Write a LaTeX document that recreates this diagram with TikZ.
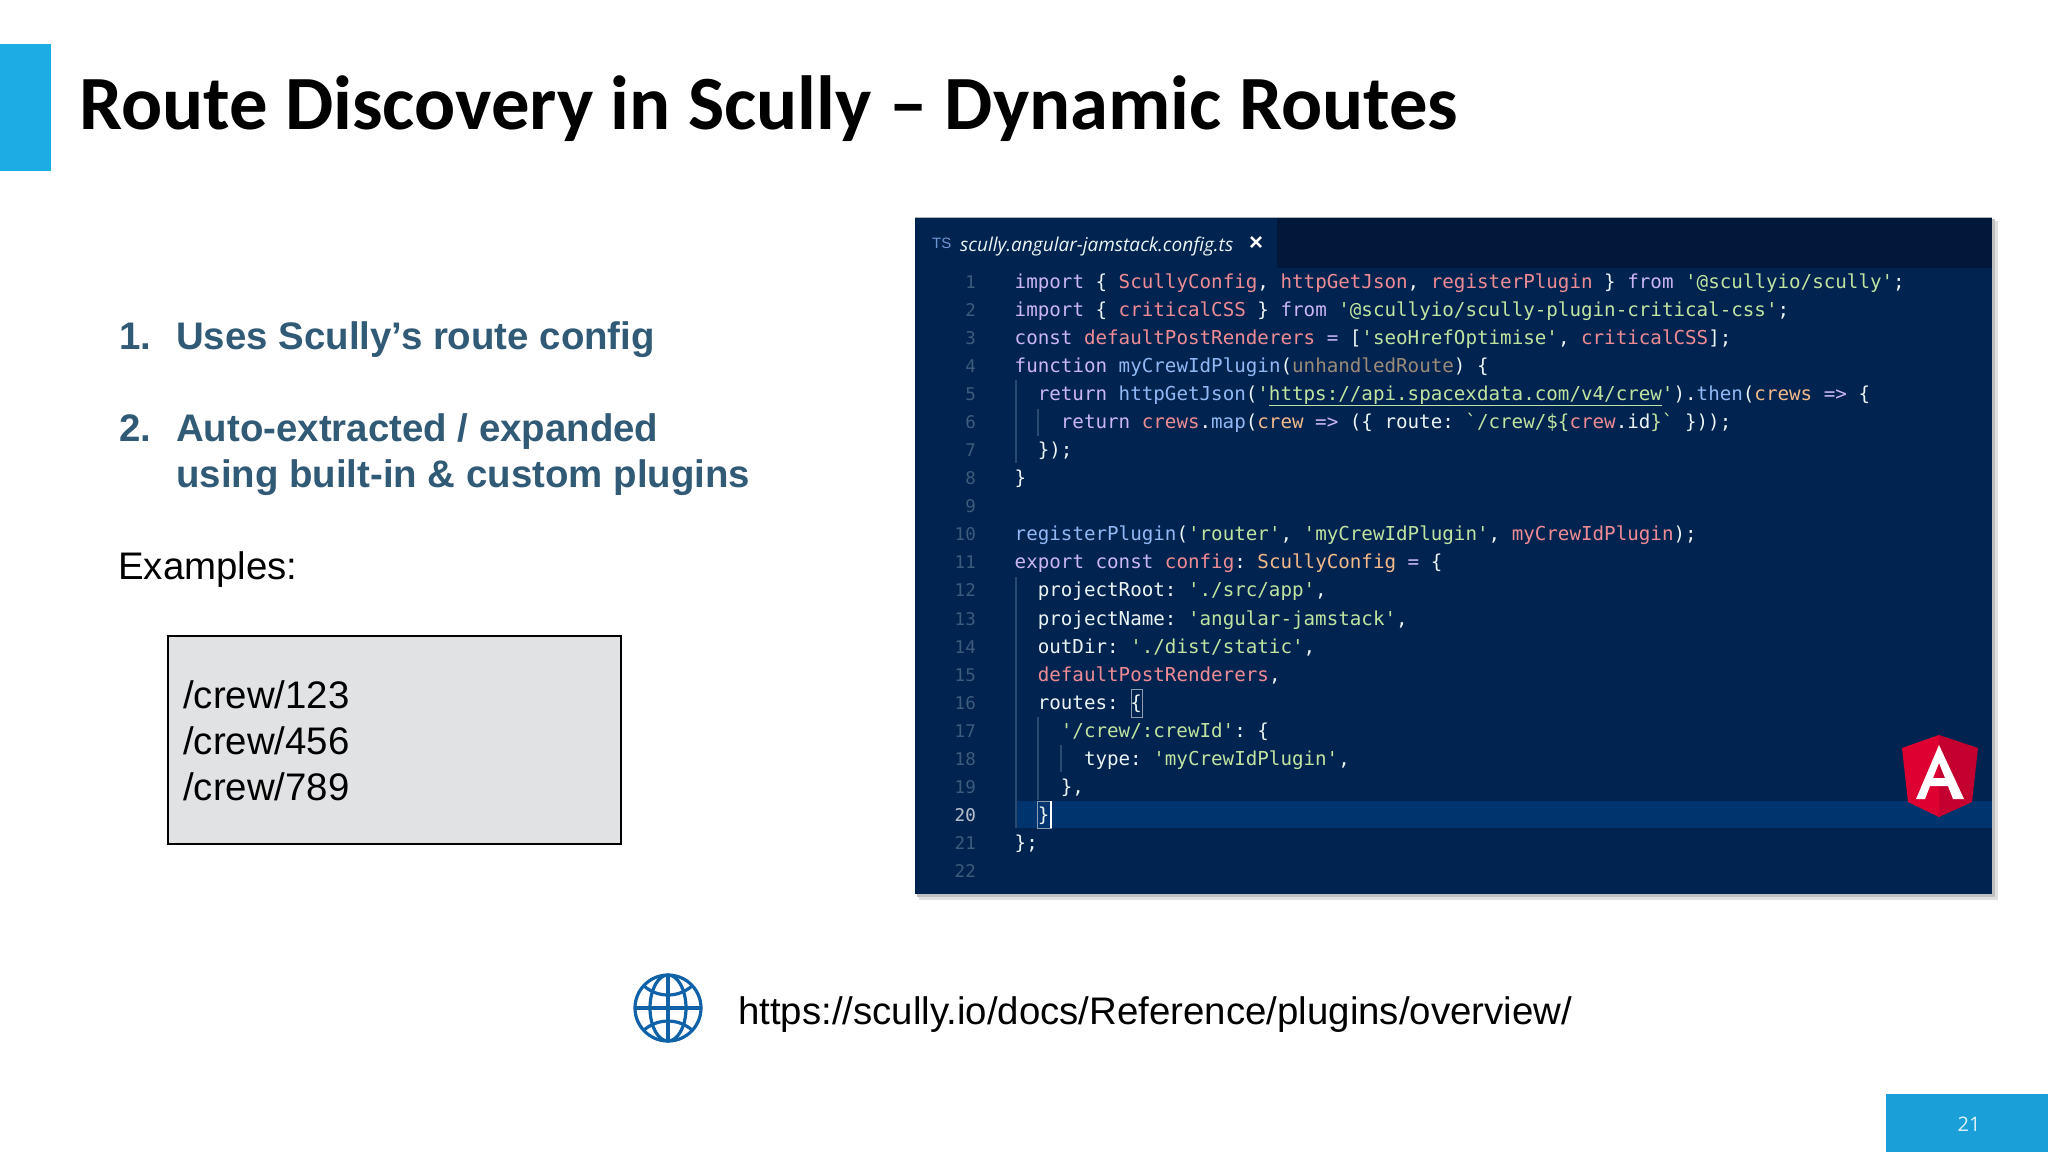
\documentclass[tikz,border=0pt]{standalone}
\usepackage{fontspec}
\setmainfont{Liberation Sans}
\newfontfamily\titlefont{Carlito}
\newfontfamily\pagefont{Open Sans}
\newfontfamily\codefont{DejaVu Sans Mono}
\definecolor{panelbg}{HTML}{01234F}
\definecolor{tabdark}{HTML}{01183A}
\definecolor{curline}{HTML}{00346E}
\definecolor{kw}{HTML}{C9B6F2}
\definecolor{rd}{HTML}{EE8C95}
\definecolor{st}{HTML}{BFE3A0}
\definecolor{wh}{HTML}{EAF4F4}
\definecolor{fn}{HTML}{8FB8F5}
\definecolor{orng}{HTML}{F2B98A}
\definecolor{faded}{HTML}{9A8A78}
\definecolor{lnum}{HTML}{3D5C7C}
\definecolor{guide}{HTML}{2A4A70}
\definecolor{brandblue}{HTML}{1CADE4}
\definecolor{footblue}{HTML}{1B9FD8}
\definecolor{headtxt}{HTML}{315A76}
\definecolor{boxgrey}{HTML}{E0E2E4}
\definecolor{globeblue}{HTML}{0F62A8}
\newcommand\Kw[1]{{\color{kw}#1}}
\newcommand\Rd[1]{{\color{rd}#1}}
\newcommand\St[1]{{\color{st}#1}}
\newcommand\Fn[1]{{\color{fn}#1}}
\newcommand\Or[1]{{\color{orng}#1}}
\newcommand\Fd[1]{{\color{faded}#1}}
\tikzset{
  codetext/.style={anchor=base west,inner sep=0pt,text=wh,font=\codefont\frenchspacing\fontsize{19.2}{22}\selectfont},
  linenum/.style={anchor=base east,inner sep=0pt,text=lnum,font=\codefont\fontsize{17.5}{22}\selectfont},
  headline/.style={anchor=base west,inner sep=0pt,text=headtxt,font=\bfseries\fontsize{38.4}{46}\selectfont},
  plainline/.style={anchor=base west,inner sep=0pt,text=black,font=\fontsize{38.4}{46}\selectfont},
  guideline/.style={draw=guide,line width=1.2pt},
  bracketbox/.style={draw=white!55!panelbg,line width=1pt}
}
\newcommand\codeline[3]{%
  \node[linenum] (num#1) at (976,{288.3+(#1-1)*28.06}) {#1};
  \node[codetext] (code#1) at ({1014.5+#2*11.55},{288.3+(#1-1)*28.06}) {#3};}
\begin{document}
\begin{tikzpicture}[x=1pt,y=-1pt]
\useasboundingbox (0,0) rectangle (2048,1152);
\fill[white] (0,0) rectangle (2048,1152);
% header
\fill[brandblue] (0,44) rectangle (51,171);
\node[anchor=base west,inner sep=0pt,text=black,font=\titlefont\bfseries\fontsize{76.7}{90}\selectfont] (title) at (79,129) {Route Discovery in Scully – Dynamic Routes};
% left column
\node[headline] (n1) at (119,349.5) {1.};
\node[headline] (h1) at (176,349.5) {Uses Scully’s route config};
\node[headline] (n2) at (119,441.5) {2.};
\node[headline] (h2a) at (176,441.5) {Auto-extracted / expanded};
\node[headline] (h2b) at (176,487.5) {using built-in \& custom plugins};
\node[plainline] (ex) at (118,579) {Examples:};
\node[draw=black,line width=2pt,fill=boxgrey,minimum width=0pt,inner sep=0pt] (box) at (394.5,740) {\tikz[x=1pt,y=1pt]\path (0,0) rectangle (453,208);};
\node[plainline] (c1) at (183,708.5) {/crew/123};
\node[plainline] (c2) at (183,754.5) {/crew/456};
\node[plainline] (c3) at (183,800.5) {/crew/789};
% code panel shadow
\fill[black!12] (919,221) rectangle (1998,900);
\fill[black!25] (917,219) rectangle (1995,897);
% code panel
\fill[panelbg] (915,217) rectangle (1992,894);
\draw[black!30,line width=1pt] (915,217) -- (1992,217);
\fill[tabdark] (1277,218) rectangle (1992,268);
\fill[curline] (1015,801) rectangle (1992,828);
% tab
\node[anchor=base west,inner sep=0pt,text=cyan!45!blue!60!white,font=\fontsize{15}{17}\selectfont] (ts) at (932,248) {TS};
\node[anchor=base west,inner sep=0pt,text=wh,font=\pagefont\itshape\fontsize{19.05}{22}\selectfont] (tab) at (960,251) {scully.angular-jamstack.config.ts};
\node[anchor=center,inner sep=0pt,text=white,font=\bfseries\fontsize{24}{26}\selectfont] (close) at (1256,243) {×};
% indent guides
\draw[guideline] (1016,380) -- (1016,463);
\draw[guideline] (1038,409) -- (1038,436);
\draw[guideline] (1016,577) -- (1016,828);
\draw[guideline] (1038,717) -- (1038,800);
\draw[guideline] (1061,745) -- (1061,772);
% brackets
\draw[bracketbox] (1131,689) rectangle (1142,717);
\draw[bracketbox] (1037,801) rectangle (1051,828);
\draw[white,line width=1.6pt] (1051,801) -- (1051,828);
% url underline
\draw[st,line width=1pt] (1269,405.5) -- (1662,405.5);
% code
\codeline{1}{0}{\Kw{import} \{ \Rd{ScullyConfig}, \Rd{httpGetJson}, \Rd{registerPlugin} \} \Kw{from} \St{'@scullyio/scully'};}
\codeline{2}{0}{\Kw{import} \{ \Rd{criticalCSS} \} \Kw{from} \St{'@scullyio/scully-plugin-critical-css'};}
\codeline{3}{0}{\Kw{const} \Rd{defaultPostRenderers} \Kw{=} [\St{'seoHrefOptimise'}, \Rd{criticalCSS}];}
\codeline{4}{0}{\Kw{function} \Fn{myCrewIdPlugin}(\Fd{unhandledRoute}) \{}
\codeline{5}{2}{\Kw{return} \Fn{httpGetJson}(\St{'https://api.spacexdata.com/v4/crew'}).\Fn{then}(\Or{crews} \Kw{=>} \{}
\codeline{6}{4}{\Kw{return} \Rd{crews}.\Fn{map}(\Or{crew} \Kw{=>} (\{ route: \St{`/crew/\$\{}\Rd{crew}.id\St{\}`} \}));}
\codeline{7}{2}{\});}
\codeline{8}{0}{\}}
\codeline{9}{0}{}
\codeline{10}{0}{\Fn{registerPlugin}(\St{'router'}, \St{'myCrewIdPlugin'}, \Rd{myCrewIdPlugin});}
\codeline{11}{0}{\Kw{export const} \Rd{config}: \Or{ScullyConfig} \Kw{=} \{}
\codeline{12}{2}{projectRoot: \St{'./src/app'},}
\codeline{13}{2}{projectName: \St{'angular-jamstack'},}
\codeline{14}{2}{outDir: \St{'./dist/static'},}
\codeline{15}{2}{\Rd{defaultPostRenderers},}
\codeline{16}{2}{routes: \{}
\codeline{17}{4}{\St{'/crew/:crewId'}: \{}
\codeline{18}{6}{type: \St{'myCrewIdPlugin'},}
\codeline{19}{4}{\},}
\codeline{20}{2}{\}}
\codeline{21}{0}{\};}
\codeline{22}{0}{}
\node[linenum,text=white!70!panelbg] (num20b) at (976,{288.3+19*28.06}) {20};
% Angular logo
\fill[fill={rgb,255:red,221;green,0;blue,49}] (1939,735) -- (1902,748) -- (1908,802) -- (1939,817) -- cycle;
\fill[fill={rgb,255:red,195;green,0;blue,47}] (1939,735) -- (1978,748) -- (1972,802) -- (1939,817) -- cycle;
\fill[white,even odd rule] (1939,745) -- (1916,799) -- (1925,799) -- (1930,786) -- (1948,786) -- (1953,799) -- (1964,799) -- cycle
  (1939,763) -- (1945,778) -- (1933,778) -- cycle;
% globe
\begin{scope}[draw=globeblue,line width=3.2pt]
\draw (668,1008) circle[radius=33];
\draw (668,975) -- (668,1041);
\draw (635,1008) -- (701,1008);
\draw (668,1008) ellipse[x radius=18,y radius=33];
\draw (644,986) .. controls (658,998) and (678,998) .. (692,986);
\draw (644,1030) .. controls (658,1018) and (678,1018) .. (692,1030);
\end{scope}
\node[plainline] (url) at (738,1024) {https://scully.io/docs/Reference/plugins/overview/};
% footer
\fill[footblue] (1886,1094) rectangle (2048,1152);
\node[inner sep=0pt,text=white!85!footblue,font=\pagefont\fontsize{20}{24}\selectfont] (pg) at (1969,1124) {21};
\end{tikzpicture}
\end{document}
